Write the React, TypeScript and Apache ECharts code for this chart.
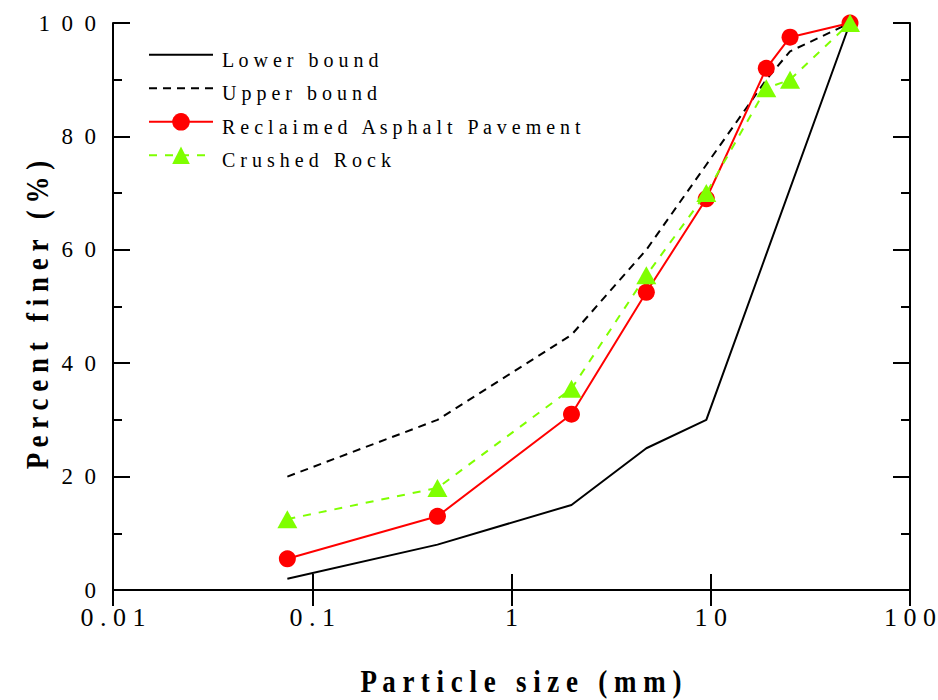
import React, { useEffect, useRef } from "react";
import * as echarts from "echarts";

// Sieve sizes (mm)
const sizes = [0.075, 0.425, 2, 4.75, 9.5, 19, 25, 50];
const lowerSizes = [0.075, 0.425, 2, 4.75, 9.5, 50];
const lowerBound = [2, 8, 15, 25, 30, 100];
const upperBound = [20, 30, 45, 60, 75, 90, 95, 100];
const rap = [5.5, 13, 31, 52.5, 69, 92, 97.5, 100];
const crushedRock = [12.5, 18, 35.5, 55.5, 70, 88.5, 90, 100];

const seriesNames = ["Lower bound", "Upper bound", "Reclaimed Asphalt Pavement", "Crushed Rock"];
const xTickLabels: Record<string, string> = { "0.01": "0.01", "0.1": "0.1", "1": "1", "10": "10", "100": "100" };
const yTickLabels = ["0", "20", "40", "60", "80", "100"];
const xTitle = "Particle size (mm)";
const yTitle = "Percent finer (%)";

const FONT = "Liberation Serif";

function spaced(s: string, gap = " ", wordGap = "  "): string {
  return s
    .split(" ")
    .map((w) => w.split("").join(gap))
    .join(wordGap);
}

function pairs(xs: number[], ys: number[]) {
  return xs.map((x, i) => [x, ys[i]]);
}

export default function App() {
  const ref = useRef<HTMLDivElement>(null);
  useEffect(() => {
    if (!ref.current) return;
    const chart = echarts.init(ref.current, null, { renderer: "svg" });
    const axisLine = { show: true, lineStyle: { color: "#000", width: 2 } };
    const titleStyle = {
      fontFamily: FONT,
      fontSize: 27,
      fontWeight: "bold",
      fill: "#000",
      align: "center",
      verticalAlign: "middle",
    };
    chart.setOption({
      animation: false,
      backgroundColor: "#fff",
      textStyle: { fontFamily: FONT, color: "#000" },
      grid: { left: 113, right: 28, top: 23, bottom: 110, containLabel: false, outerBoundsMode: "none" },
      graphic: [
        {
          type: "text",
          x: 521,
          y: 681,
          scaleY: 1.15,
          style: { ...titleStyle, text: spaced(xTitle, " ", "\u2002 ") },
        },
        {
          type: "text",
          x: 37,
          y: 315,
          rotation: Math.PI / 2,
          scaleY: 1.2,
          style: { ...titleStyle, text: spaced(yTitle, " ", "\u2002 ") },
        },
      ],
      legend: {
        orient: "vertical",
        left: 148,
        top: 46,
        padding: 0,
        itemWidth: 64,
        itemHeight: 22,
        itemGap: 9.7,
        textStyle: {
          fontFamily: FONT,
          fontSize: 20,
          color: "#000",
          padding: [10, 0, 0, 4],
          rich: { t: { fontFamily: FONT, fontSize: 20, color: "#000" } },
        },
        formatter: (n: string) => "{t|" + spaced(n, " ", "\u2002 ") + "}",
        data: [
          { name: seriesNames[0], itemStyle: { opacity: 0 } },
          { name: seriesNames[1], itemStyle: { opacity: 0 } },
          { name: seriesNames[2] },
          { name: seriesNames[3] },
        ],
      },
      xAxis: [
        {
          type: "log",
          logBase: 10,
          min: 0.01,
          max: 100,
          position: "bottom",
          axisLine,
          axisTick: { show: true, inside: true, length: 16, lineStyle: { color: "#000", width: 2 } },
          minorTick: { show: false },
          splitLine: { show: false },
          axisLabel: {
            fontFamily: FONT,
            fontSize: 26,
            color: "#000",
            margin: 14,
            formatter: (v: number) => {
              const key = String(parseFloat(v.toPrecision(6)));
              return spaced(xTickLabels[key] ?? key);
            },
          },
        },
        {
          type: "log",
          logBase: 10,
          min: 0.01,
          max: 100,
          position: "top",
          axisLine,
          axisTick: { show: true, inside: true, length: 16, lineStyle: { color: "#000", width: 2 } },
          axisLabel: { show: false },
          splitLine: { show: false },
        },
      ],
      yAxis: [
        {
          type: "value",
          min: 0,
          max: 100,
          interval: 20,
          position: "left",
          axisLine,
          axisTick: { show: true, inside: true, length: 17, lineStyle: { color: "#000", width: 2 } },
          minorTick: { show: true, splitNumber: 2, length: 9, lineStyle: { color: "#000", width: 2 } },
          splitLine: { show: false },
          axisLabel: {
            fontFamily: FONT,
            fontSize: 23,
            color: "#000",
            margin: 17,
            formatter: (v: number) => spaced(yTickLabels[Math.round(v / 20)] ?? String(v), "\u2002"),
          },
        },
        {
          type: "value",
          min: 0,
          max: 100,
          interval: 20,
          position: "right",
          axisLine,
          axisTick: { show: true, inside: true, length: 17, lineStyle: { color: "#000", width: 2 } },
          minorTick: { show: true, splitNumber: 2, length: 9, lineStyle: { color: "#000", width: 2 } },
          splitLine: { show: false },
          axisLabel: { show: false },
        },
      ],
      series: [
        {
          name: seriesNames[0],
          type: "line",
          data: pairs(lowerSizes, lowerBound),
          symbol: "none",
          lineStyle: { color: "#000", width: 2, type: "solid" },
          itemStyle: { color: "#000" },
        },
        {
          name: seriesNames[1],
          type: "line",
          data: pairs(sizes, upperBound),
          symbol: "none",
          lineStyle: { color: "#000", width: 2, type: [8, 6] },
          itemStyle: { color: "#000" },
        },
        {
          name: seriesNames[2],
          type: "line",
          data: pairs(sizes, rap),
          symbol: "circle",
          symbolSize: 17,
          lineStyle: { color: "#ff0000", width: 2, type: "solid" },
          itemStyle: { color: "#ff0000" },
          z: 3,
        },
        {
          name: seriesNames[3],
          type: "line",
          data: pairs(sizes, crushedRock),
          symbol: "triangle",
          symbolSize: [20, 18],
          lineStyle: { color: "#7fff00", width: 2, type: [8, 8] },
          itemStyle: { color: "#7fff00" },
          z: 4,
        },
      ],
    });
    return () => chart.dispose();
  }, []);
  return <div ref={ref} style={{ width: 938, height: 700, position: "absolute", left: 0, top: 0 }} />;
}
